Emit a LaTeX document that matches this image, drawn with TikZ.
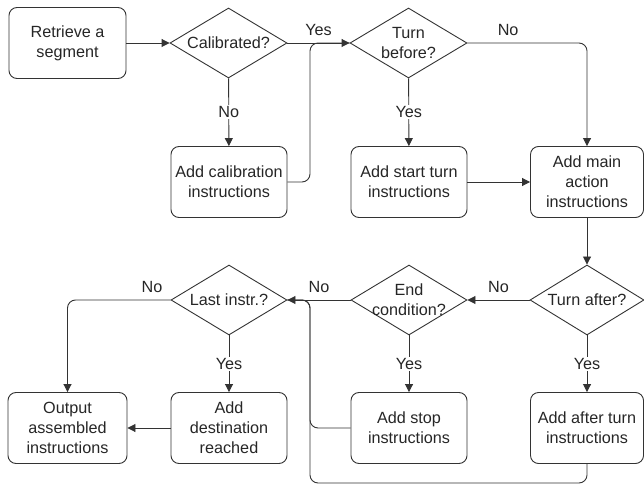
\documentclass[tikz,border=0pt]{standalone}
\usepackage{fontspec}
\setmainfont{Liberation Sans}
\usetikzlibrary{shapes.geometric,arrows.meta,calc}
\begin{document}
\begin{tikzpicture}[x=1pt,y=1pt,
  txtfont/.style={font=\fontsize{16.2}{20}\selectfont, text=black!85},
  box/.style={draw=black!80, line width=0.9pt, rounded corners=8pt, minimum width=117pt, minimum height=71pt, align=center, inner sep=0pt, txtfont},
  dia/.style={draw=black!80, line width=0.9pt, diamond, minimum width=117pt, minimum height=70pt, inner sep=0pt},
  dtxt/.style={align=center, inner sep=0pt, txtfont},
  arr/.style={draw=black!80, line width=0.9pt, -{Triangle[length=8pt,width=8pt]}},
  ln/.style={draw=black!80, line width=0.9pt},
  lab/.style={inner sep=1.5pt, txtfont},
  vlab/.style={lab, fill=white},
]
\useasboundingbox (0,0) rectangle (644,485);

% row 1
\node[box] (r1) at (67.5,442) {Retrieve a\\segment};
\node[dia, label={[dtxt]center:Calibrated?}] (d1) at (228.5,442) {};
\node[dia, label={[dtxt]center:Turn\\before?}] (d2) at (408.5,442) {};
% row 2
\node[box, minimum width=116pt] (bcal) at (229,303) {Add calibration\\instructions};
\node[box, minimum width=116pt] (bstart) at (409,303) {Add start turn\\instructions};
\node[box, minimum width=113pt] (bmain) at (587,303) {Add main\\action\\instructions};
% row 3
\node[dia, minimum width=114pt, label={[dtxt]center:Turn after?}] (d3) at (587,185) {};
\node[dia, minimum width=116pt, label={[dtxt]center:End\\condition?}] (d4) at (409,185) {};
\node[dia, minimum width=116pt, label={[dtxt]center:Last instr.?}] (d5) at (229,185) {};
% row 4
\node[box, minimum width=119pt] (bout) at (67.5,57) {Output\\assembled\\instructions};
\node[box, minimum width=116pt] (bdest) at (229,57) {Add\\destination\\reached};
\node[box, minimum width=116pt] (bstop) at (409,57) {Add stop\\instructions};
\node[box, minimum width=113pt] (bafter) at (587,57) {Add after turn\\instructions};

\coordinate (j1) at (310,442);
\coordinate (j2) at (310,185);
\coordinate (j3) at (310,2);

% connectors
\draw[arr] (r1) -- (d1);
\draw[arr] (d1) -- node[vlab] {No} (bcal);
\draw[arr] (d1.east) -- node[lab, above=5pt] {Yes} (d2.west);
\draw[ln, rounded corners=8pt] (bcal.east) -| (j1) -- (d2.west);
\draw[arr, rounded corners=8pt] (d2.east) -| node[lab, above=5pt, pos=0.17] {No} (bmain.north);
\draw[arr] (d2) -- node[vlab] {Yes} (bstart);
\draw[arr] (bstart) -- (bmain);
\draw[arr] (bmain) -- (d3);
\draw[arr] (d3.west) -- node[lab, above=5pt] {No} (d4.east);
\draw[arr] (d3) -- node[vlab] {Yes} (bafter);
\draw[arr] (d4) -- node[vlab] {Yes} (bstop);
\draw[arr] (d4.west) -- node[lab, above=5pt] {No} (d5.east);
\draw[arr, rounded corners=8pt] (d5.west) -| node[lab, above=5pt, pos=0.09] {No} (bout.north);
\draw[arr] (d5) -- node[vlab] {Yes} (bdest);
\draw[arr] (bdest) -- (bout);
\draw[ln, rounded corners=8pt] (bstop.west) -| (j2) -- (d5.east);
\draw[ln, rounded corners=8pt] (bafter.south) |- (j3) -- (j2) -- (d5.east);
\end{tikzpicture}
\end{document}
